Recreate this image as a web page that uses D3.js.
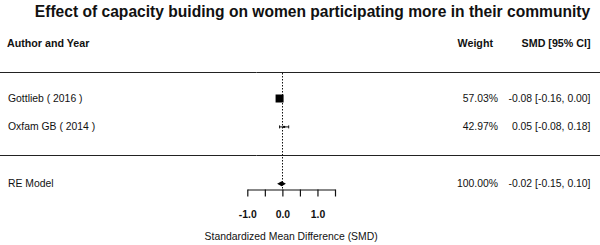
<!DOCTYPE html>
<html>
<head>
<meta charset="utf-8">
<script src="https://cdn.jsdelivr.net/npm/d3@7"></script>
<style>
  html, body { margin: 0; padding: 0; background: #fff; }
  svg { display: block; font-family: 'Liberation Sans', Arial, sans-serif; }
</style>
</head>
<body>
<script>
// study rows (top to bottom)
const studies = ['Gottlieb ( 2016 )', 'Oxfam GB ( 2014 )'];
const smd = [-0.08, 0.05];
const ciLow = [-0.16, -0.08];
const ciHigh = [0.0, 0.18];
const weights = [57.03, 42.97];

// pooled estimate
const reLabel = 'RE Model';
const reSmd = -0.02;
const reLow = -0.15;
const reHigh = 0.1;

const tickValues = [-1, -0.5, 0, 0.5, 1, 1.5];
const tickLabels = [-1, 0, 1];

const w = 600;
const h = 245;
// plain hyphen minus, like the R output
const fmt = (v) => v.toFixed(2);

const svg = d3.select('body').append('svg').attr('width', w).attr('height', h);

const xScale = d3.scaleLinear().domain([-1, 1.5]).range([247.3, 335]);
// metafor-like row numbers: studies at k..1, line at 0, RE at -1
const yScale = d3.scaleLinear().domain([4, -1]).range([41.7, 183.7]);
const sizeScale = d3.scaleLinear().domain([42.97, 57.03]).range([2, 8]);

const rows = studies.map((name, i) => ({
  name,
  smd: smd[i],
  lo: ciLow[i],
  hi: ciHigh[i],
  weight: weights[i],
  row: studies.length - i,
}));

// title
svg
  .append('text')
  .attr('x', 312.5)
  .attr('y', 16.5)
  .attr('text-anchor', 'middle')
  .style('font-weight', 'bold')
  .style('font-size', '15.6px')
  .attr('fill', '#111')
  .text('Effect of capacity buiding on women participating more in their community');

// headers
const header = svg.append('g').style('font-weight', 'bold').style('font-size', '10.7px').attr('fill', '#111');
header.append('text').attr('x', 7).attr('y', yScale(4) + 5.5).text('Author and Year');
header.append('text').attr('x', 493).attr('y', yScale(4) + 5.5).attr('text-anchor', 'end').text('Weight');
header.append('text').attr('x', 590.5).attr('y', yScale(4) + 5.5).attr('text-anchor', 'end').text('SMD [95% CI]');

// horizontal separators
[2.95, 0].forEach((r) => {
  svg
    .append('line')
    .attr('x1', 0)
    .attr('x2', w)
    .attr('y1', Math.round(yScale(r)) + 0.5)
    .attr('y2', Math.round(yScale(r)) + 0.5)
    .attr('stroke', '#222')
    .attr('stroke-width', 1);
});

// reference line at 0
svg
  .append('line')
  .attr('x1', Math.round(xScale(0)) + 0.5)
  .attr('x2', Math.round(xScale(0)) + 0.5)
  .attr('y1', Math.round(yScale(2.95)) + 1)
  .attr('y2', 189)
  .attr('stroke', '#111')
  .attr('stroke-width', 1)
  .attr('stroke-dasharray', '1.5,1.5');

// study rows
const g = svg.selectAll('.study').data(rows).enter().append('g').attr('class', 'study');

g.append('text')
  .attr('x', 8)
  .attr('y', (d) => yScale(d.row) + 3.5)
  .style('font-size', '10.4px')
  .attr('fill', '#111')
  .text((d) => d.name);

g.append('line')
  .attr('x1', (d) => xScale(d.lo))
  .attr('x2', (d) => xScale(d.hi))
  .attr('y1', (d) => yScale(d.row))
  .attr('y2', (d) => yScale(d.row))
  .attr('stroke', '#111');

['lo', 'hi'].forEach((k) => {
  g.append('line')
    .attr('x1', (d) => xScale(d[k]))
    .attr('x2', (d) => xScale(d[k]))
    .attr('y1', (d) => yScale(d.row) - 1.5)
    .attr('y2', (d) => yScale(d.row) + 1.5)
    .attr('stroke', '#111');
});

g.append('rect')
  .attr('x', (d) => xScale(d.smd) - sizeScale(d.weight) / 2)
  .attr('y', (d) => yScale(d.row) - sizeScale(d.weight) / 2)
  .attr('width', (d) => sizeScale(d.weight))
  .attr('height', (d) => sizeScale(d.weight))
  .attr('fill', '#000');

g.append('text')
  .attr('x', 498)
  .attr('y', (d) => yScale(d.row) + 3.5)
  .attr('text-anchor', 'end')
  .style('font-size', '10.4px')
  .attr('fill', '#111')
  .text((d) => fmt(d.weight) + '%');

g.append('text')
  .attr('x', 590.5)
  .attr('y', (d) => yScale(d.row) + 3.5)
  .attr('text-anchor', 'end')
  .style('font-size', '10.4px')
  .attr('fill', '#111')
  .text((d) => `${fmt(d.smd)} [${fmt(d.lo)}, ${fmt(d.hi)}]`);

// pooled RE row
const yRe = yScale(-1);
svg
  .append('text')
  .attr('x', 8)
  .attr('y', yRe + 3.5)
  .style('font-size', '10.4px')
  .attr('fill', '#111')
  .text(reLabel);

svg
  .append('polygon')
  .attr(
    'points',
    [
      [xScale(reLow), yRe],
      [xScale(reSmd), yRe - 2.5],
      [xScale(reHigh), yRe],
      [xScale(reSmd), yRe + 2.5],
    ].join(' ')
  )
  .attr('fill', '#000');

svg
  .append('text')
  .attr('x', 498)
  .attr('y', yRe + 3.5)
  .attr('text-anchor', 'end')
  .style('font-size', '10.4px')
  .attr('fill', '#111')
  .text(fmt(weights.reduce((a, b) => a + b, 0)) + '%');

svg
  .append('text')
  .attr('x', 590.5)
  .attr('y', yRe + 3.5)
  .attr('text-anchor', 'end')
  .style('font-size', '10.4px')
  .attr('fill', '#111')
  .text(`${fmt(reSmd)} [${fmt(reLow)}, ${fmt(reHigh)}]`);

// x axis
const xAxis = d3
  .axisBottom(xScale)
  .tickValues(tickValues)
  .tickSize(7)
  .tickSizeOuter(0)
  .tickPadding(14)
  .tickFormat((d) => (tickLabels.includes(d) ? d.toFixed(1) : ''));

const axisG = svg
  .append('g')
  .attr('id', 'x-axis')
  .attr('transform', 'translate(0,189.5)')
  .call(xAxis);

axisG.select('.domain').attr('stroke', '#111').attr('stroke-width', 1.2);
axisG.selectAll('.tick line').attr('stroke', '#111').attr('stroke-width', 1.2);
axisG
  .selectAll('.tick text')
  .attr('fill', '#111')
  .style('font-size', '10.4px')
  .style('font-weight', 'bold')
  .style('font-family', "'Liberation Sans', Arial, sans-serif");

svg
  .append('text')
  .attr('x', xScale(0.25))
  .attr('y', 240)
  .attr('text-anchor', 'middle')
  .style('font-size', '10.4px')
  .attr('fill', '#111')
  .text('Standardized Mean Difference (SMD)');
</script>
</body>
</html>
